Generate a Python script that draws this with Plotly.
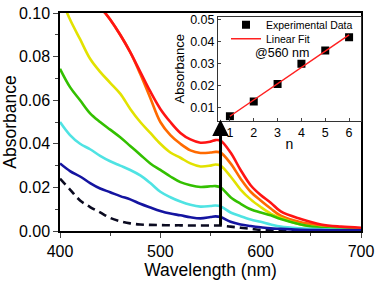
import plotly.graph_objects as go
import numpy as np

# ---------------- data ----------------
wavelength = [400, 410, 420, 430, 440, 450, 460, 470, 480, 490, 500, 510, 520, 530,
              540, 550, 555, 560, 570, 580, 590, 600, 610, 620, 640, 660, 680, 700]

abs_blank = [0.024, 0.019, 0.014, 0.011, 0.0085, 0.006, 0.0045, 0.0035, 0.003, 0.0028,
             0.0027, 0.0026, 0.0026, 0.0025, 0.0025, 0.0025, 0.0025, 0.0025, 0.002, 0.0015,
             0.001, 0.0005, 0.0003, 0.0002, 0.0001, 0.0, 0.0, 0.0]
abs_n1 = [0.031, 0.0275, 0.025, 0.022, 0.0195, 0.0178, 0.016, 0.0145, 0.0125, 0.0108,
          0.0092, 0.008, 0.0072, 0.0063, 0.0058, 0.0064, 0.0067, 0.0064, 0.0042, 0.003,
          0.0023, 0.0017, 0.0012, 0.001, 0.0006, 0.0004, 0.0003, 0.0003]
abs_n2 = [0.050, 0.044, 0.040, 0.0375, 0.0345, 0.032, 0.030, 0.028, 0.0255, 0.022,
          0.018, 0.0155, 0.0135, 0.012, 0.0112, 0.0115, 0.0117, 0.0113, 0.0085, 0.0068,
          0.0053, 0.0042, 0.003, 0.002, 0.0012, 0.0008, 0.0005, 0.0005]
abs_n3 = [0.0744, 0.066, 0.060, 0.054, 0.050, 0.0465, 0.043, 0.039, 0.035, 0.031,
          0.028, 0.025, 0.0224, 0.021, 0.0202, 0.0205, 0.0206, 0.020, 0.0155, 0.0125,
          0.010, 0.0085, 0.0072, 0.0055, 0.003, 0.0015, 0.001, 0.0005]
abs_n4 = [0.108, 0.097, 0.088, 0.079, 0.073, 0.068, 0.063, 0.056, 0.050, 0.045,
          0.040, 0.036, 0.0336, 0.031, 0.0296, 0.030, 0.0305, 0.030, 0.025, 0.019,
          0.0145, 0.011, 0.008, 0.006, 0.003, 0.0015, 0.001, 0.0008]
abs_n5 = [0.135, 0.125, 0.117, 0.110, 0.103, 0.097, 0.090, 0.082, 0.072, 0.061,
          0.050, 0.044, 0.040, 0.037, 0.0358, 0.036, 0.0363, 0.036, 0.031, 0.024,
          0.018, 0.014, 0.0103, 0.007, 0.004, 0.0025, 0.0015, 0.001]
abs_n6 = [0.135, 0.125, 0.117, 0.110, 0.103, 0.097, 0.090, 0.082, 0.073, 0.064,
          0.056, 0.050, 0.045, 0.042, 0.0405, 0.041, 0.0417, 0.0415, 0.036, 0.028,
          0.021, 0.0165, 0.013, 0.009, 0.0055, 0.003, 0.002, 0.0015]

n_layers = [1, 2, 3, 4, 5, 6]
abs_560 = [0.0061, 0.0128, 0.0208, 0.0300, 0.0361, 0.0421]

arrow_wl = 560
arrow_from = 0.0018
arrow_to = 0.0511

series = [
    (abs_n5, "#ff6a00"),
    (abs_n4, "#e2e200"),
    (abs_n3, "#33c000"),
    (abs_n2, "#4fe3e3"),
    (abs_n1, "#1414a0"),
    (abs_n6, "#ff1414"),
]

fig = go.Figure()

fig.add_trace(go.Scatter(x=wavelength, y=abs_blank, mode="lines",
                         line=dict(color="#0a0a20", width=2.6, dash="8px,5px", shape="spline"),
                         showlegend=False, xaxis="x", yaxis="y"))
for vals, col in series:
    fig.add_trace(go.Scatter(x=wavelength, y=vals, mode="lines",
                             line=dict(color=col, width=2.6, shape="spline"),
                             showlegend=False, xaxis="x", yaxis="y"))

# inset
coef = np.polyfit(n_layers, abs_560, 1)
fit_x = [n_layers[0], n_layers[-1]]
fit_y = [float(np.polyval(coef, v)) for v in fit_x]

fig.add_trace(go.Scatter(x=n_layers, y=abs_560, mode="markers",
                         marker=dict(symbol="square", size=8, color="black"),
                         name="Experimental Data", legend="legend",
                         xaxis="x2", yaxis="y2"))
fig.add_trace(go.Scatter(x=fit_x, y=fit_y, mode="lines",
                         line=dict(color="#ff2020", width=1.5),
                         name="Linear Fit", legend="legend2",
                         xaxis="x2", yaxis="y2"))

font_main = "Liberation Sans, Arial, sans-serif"

# plot area: x 60..361 px, y 10..231 px
def py(ypx):
    return (231 - ypx) / 221.0

def px(xpx):
    return (xpx - 60) / 301.0

leg_common = dict(xanchor="left", yanchor="middle", bgcolor="rgba(0,0,0,0)",
                  font=dict(size=10.5), itemwidth=30, borderwidth=0)

fig.update_layout(
    width=377, height=281,
    margin=dict(l=60, r=16, t=10, b=50),
    paper_bgcolor="white", plot_bgcolor="white",
    font=dict(family=font_main, color="black"),
    xaxis=dict(domain=[0, 1], range=[400, 700], dtick=100, tick0=400,
               ticks="outside", ticklen=5, tickwidth=1.3,
               minor=dict(dtick=50, ticklen=3, ticks="outside", tickwidth=1.3),
               showline=True, linecolor="black", linewidth=1.5, mirror=True,
               showgrid=False, zeroline=False, automargin=False,
               tickfont=dict(size=16),
               title=dict(text="Wavelength (nm)", font=dict(size=17.5), standoff=0)),
    yaxis=dict(domain=[0, 1], range=[0, 0.10], dtick=0.02, tickformat=".2f",
               ticks="outside", ticklen=5, tickwidth=1.3,
               minor=dict(dtick=0.01, ticklen=3, ticks="outside", tickwidth=1.3),
               showline=True, linecolor="black", linewidth=1.5, mirror=True,
               showgrid=False, zeroline=False, automargin=False,
               tickfont=dict(size=16),
               title=dict(text="Absorbance", font=dict(size=17.5), standoff=2)),
    xaxis2=dict(domain=[px(218), 1.0], anchor="y2", range=[0.5, 6.5], dtick=1, tick0=1,
                ticks="inside", ticklen=3, showline=True, linecolor="#333333",
                linewidth=1, mirror=True, showgrid=False, zeroline=False,
                automargin=False, tickfont=dict(size=12.5),
                title=dict(text="n", font=dict(size=14), standoff=0)),
    yaxis2=dict(domain=[py(119), py(14)], anchor="x2", range=[0.0042, 0.0513],
                dtick=0.01, tick0=0.01, tickformat=".2f",
                ticks="inside", ticklen=3, showline=True, linecolor="#333333",
                linewidth=1, mirror=True, showgrid=False, zeroline=False,
                automargin=False, tickfont=dict(size=12.5),
                title=dict(text="Absorbance", font=dict(size=13), standoff=2)),
    legend=dict(x=px(226), y=py(22), **leg_common),
    legend2=dict(x=px(226), y=py(36), **leg_common),
    annotations=[
        dict(x=arrow_wl, y=arrow_to, ax=arrow_wl, ay=arrow_from,
             xref="x", yref="y", axref="x", ayref="y",
             text="", showarrow=True, arrowhead=2, arrowsize=1.1,
             arrowwidth=3, arrowcolor="black"),
        dict(x=px(253), y=py(51), xref="paper", yref="paper", xanchor="left",
             yanchor="middle", text="@560 nm", showarrow=False,
             font=dict(size=12.5)),
    ],
)

fig.write_html("out.html",
               config={"displayModeBar": False},
               post_script="document.body.style.margin='0px';"
                           "document.body.style.padding='0px';"
                           "document.body.style.overflow='hidden';")
